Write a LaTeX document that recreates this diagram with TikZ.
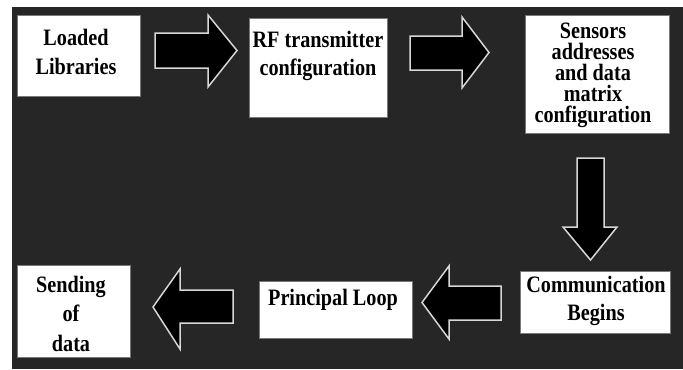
\documentclass[tikz,border=0pt]{standalone}
\usepackage{fontspec}
\setmainfont{Liberation Serif}[FakeStretch=0.86]
\newcommand\mylines[2]{\vtop{\baselineskip=#1\lineskiplimit=-1000pt\lineskip=0pt\halign{\hfil##\hfil\cr #2\crcr}}}
\definecolor{bgdark}{RGB}{38,38,38}
\definecolor{boxedge}{RGB}{120,120,120}
\definecolor{arredge}{RGB}{215,215,215}
\tikzset{
  box/.style={draw=boxedge, line width=0.8bp, fill=white, inner sep=0pt, outer sep=0pt},
  txt/.style={inner sep=0pt, outer sep=0pt, anchor=base, text=black, font=\fontsize{23.5bp}{28bp}\selectfont\bfseries},
  blockarrow/.style={fill=black, draw=arredge, line width=1.5bp, line join=miter}
}
\begin{document}
\begin{tikzpicture}[x=1bp, y=-1bp]
\useasboundingbox (0,0) rectangle (683,369);
\fill[white] (0,0) rectangle (683,369);
\fill[bgdark] (12,7) rectangle (683,369);

% boxes
\node[box, minimum width=123bp, minimum height=81bp] (b1) at (78.5,55.5) {};
\node[box, minimum width=138bp, minimum height=99bp] (b2) at (318,67.5) {};
\node[box, minimum width=144bp, minimum height=118bp] (b3) at (597,74) {};
\node[box, minimum width=150bp, minimum height=62bp] (b4) at (595,302) {};
\node[box, minimum width=153bp, minimum height=57bp] (b5) at (335.5,309.5) {};
\node[box, minimum width=113bp, minimum height=92bp] (b6) at (73.5,311) {};

% texts
\node[txt] (t1) at (76,45) {\mylines{29bp}{Loaded\cr Libraries}};
\node[txt] (t2) at (318,47) {\mylines{28bp}{RF transmitter\cr configuration}};
\node[txt] (t3) at (593,38) {\mylines{21.2bp}{Sensors\cr addresses\cr and data\cr matrix\cr configuration}};
\node[txt] (t4) at (596,292) {\mylines{28bp}{Communication\cr Begins}};
\node[txt] (t5) at (333,305) {Principal Loop};
\node[txt] (t6) at (71,292) {\mylines{29.5bp}{Sending\cr of\cr data}};

% block arrows
\draw[blockarrow] (155,33) -- (208,33) -- (208,15) -- (237,50.5) -- (208,87) -- (208,68) -- (155,68) -- cycle;
\draw[blockarrow] (410,36) -- (462,36) -- (462,17) -- (489,52.5) -- (462,88) -- (462,70) -- (410,70) -- cycle;
\draw[blockarrow] (577,158) -- (604,158) -- (604,227) -- (617,227) -- (590.5,260) -- (563,227) -- (577,227) -- cycle;
\draw[blockarrow] (501,286) -- (449,286) -- (449,266) -- (422,302.5) -- (449,339) -- (449,320) -- (501,320) -- cycle;
\draw[blockarrow] (233,290) -- (180,290) -- (180,269) -- (153,307) -- (180,349) -- (180,323) -- (233,323) -- cycle;
\end{tikzpicture}
\end{document}
